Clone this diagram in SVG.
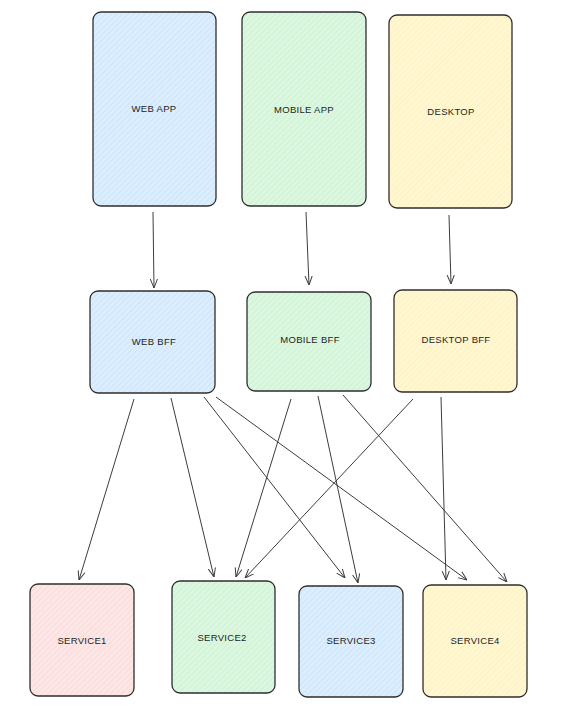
<svg xmlns="http://www.w3.org/2000/svg" width="575" height="718" viewBox="0 0 575 718">
<style>
.n{stroke:#2e2e2e;stroke-width:1.3}
.blue{fill:url(#hb)}
.green{fill:url(#hg)}
.yellow{fill:url(#hy)}
.red{fill:url(#hr)}
.t{font-family:"Liberation Sans",Arial,sans-serif;font-size:9.5px;fill:#1e1e1e;text-anchor:middle;dominant-baseline:central;letter-spacing:0.3px}
.c{stroke:#3c3c3c;stroke-width:1;fill:none;marker-end:url(#ah)}
</style>
<defs>
<marker id="ah" viewBox="0 0 10 10" refX="10" refY="5" markerWidth="9" markerHeight="9" markerUnits="userSpaceOnUse" orient="auto">
<path d="M0,1 L10,5 L0,9" fill="none" stroke="#3c3c3c" stroke-width="1.1"/>
</marker>
<pattern id="hb" width="4" height="4" patternUnits="userSpaceOnUse" patternTransform="rotate(45)"><rect width="4" height="4" fill="#dcedfd"/><path d="M0,0 L0,4" stroke="#c2e0fb" stroke-width="1.2"/></pattern>
<pattern id="hg" width="4" height="4" patternUnits="userSpaceOnUse" patternTransform="rotate(45)"><rect width="4" height="4" fill="#dcf7e0"/><path d="M0,0 L0,4" stroke="#c3f0ca" stroke-width="1.2"/></pattern>
<pattern id="hy" width="4" height="4" patternUnits="userSpaceOnUse" patternTransform="rotate(45)"><rect width="4" height="4" fill="#fff6d2"/><path d="M0,0 L0,4" stroke="#fff0b5" stroke-width="1.2"/></pattern>
<pattern id="hr" width="4" height="4" patternUnits="userSpaceOnUse" patternTransform="rotate(45)"><rect width="4" height="4" fill="#fde6e6"/><path d="M0,0 L0,4" stroke="#fbd3d3" stroke-width="1.2"/></pattern>
</defs>
<rect width="575" height="718" fill="#ffffff"/>
<g id="web-app"><rect class="n blue" x="93" y="12" width="123" height="194" rx="8"/><text class="t" x="154" y="108">WEB APP</text></g>
<g id="mobile-app"><rect class="n green" x="242" y="12" width="124" height="194" rx="8"/><text class="t" x="304" y="109">MOBILE APP</text></g>
<g id="desktop"><rect class="n yellow" x="389" y="15" width="123" height="193" rx="8"/><text class="t" x="451" y="111">DESKTOP</text></g>
<g id="web-bff"><rect class="n blue" x="90" y="291" width="125" height="102" rx="8"/><text class="t" x="154" y="341">WEB BFF</text></g>
<g id="mobile-bff"><rect class="n green" x="247" y="292" width="124" height="99" rx="8"/><text class="t" x="310" y="339">MOBILE BFF</text></g>
<g id="desktop-bff"><rect class="n yellow" x="394" y="290" width="123" height="102" rx="8"/><text class="t" x="456" y="339">DESKTOP BFF</text></g>
<g id="service1"><rect class="n red" x="30" y="584" width="104" height="112" rx="8"/><text class="t" x="82" y="640">SERVICE1</text></g>
<g id="service2"><rect class="n green" x="172" y="581" width="103" height="112" rx="8"/><text class="t" x="222" y="637">SERVICE2</text></g>
<g id="service3"><rect class="n blue" x="299" y="586" width="104" height="111" rx="8"/><text class="t" x="351" y="640">SERVICE3</text></g>
<g id="service4"><rect class="n yellow" x="423" y="585" width="104" height="112" rx="8"/><text class="t" x="475" y="640">SERVICE4</text></g>
<g id="connectors">
<path class="c" d="M153,212 L154,288"/>
<path class="c" d="M306,212 L309,285"/>
<path class="c" d="M449,215 L451,284"/>
<path class="c" d="M134,399 L79,580"/>
<path class="c" d="M171,398 L214,577"/>
<path class="c" d="M204,397 L345,578"/>
<path class="c" d="M216,397 L467,580"/>
<path class="c" d="M291,399 L236,577"/>
<path class="c" d="M318,396 L358,583"/>
<path class="c" d="M343,395 L507,582"/>
<path class="c" d="M413,399 L245,578"/>
<path class="c" d="M441,397 L446,580"/>
</g>
</svg>
